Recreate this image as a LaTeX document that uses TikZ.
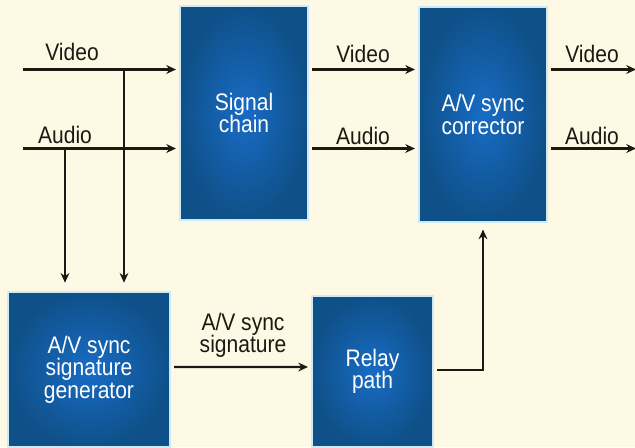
\documentclass[tikz,border=0pt]{standalone}
\usepackage{fontspec}
\setmainfont{Liberation Sans}[FakeStretch=0.88]
\usepackage{xcolor,tikz}
\usetikzlibrary{positioning,calc,arrows.meta}
\definecolor{avPaper}{HTML}{FDF9E4}
\definecolor{avLine}{HTML}{1E1812}
\definecolor{avBlueDark}{HTML}{0F5088}
\definecolor{avBlueLight}{HTML}{186CC6}
\definecolor{avGlow}{HTML}{CDEBF6}
\tikzset{
  block/.style={
    rectangle, draw=avGlow, line width=0.6pt,
    inner color=avBlueLight, outer color=avBlueDark,
    text=white, align=center,
    font=\fontsize{13.6}{12.8}\selectfont,
  },
  signal arrow/.style={
    -{Stealth[length=5.5pt, width=5pt]},
    line width=1.3pt, color=avLine,
    shorten >=2pt,
  },
  signal label/.style={
    anchor=base, font=\fontsize{13.6}{12.8}\selectfont, text=avLine,
  },
}

\begin{document}
\begin{tikzpicture}

% --- PAPER ---
\fill[avPaper] (0,0) rectangle (12.7,8.94);
\useasboundingbox (0,0) rectangle (12.7,8.94);

% --- BLOCKS ---
\node[block, minimum width=2.56cm, minimum height=4.28cm]
  (chain) at (4.88, 6.68) {Signal\\chain};
\node[block, minimum width=2.56cm, minimum height=4.3cm]
  (corrector) at (9.66, 6.65) {A/V sync\\corrector};
\node[block, minimum width=3.24cm, minimum height=3.1cm]
  (generator) at (1.78, 1.55) {A/V sync\\signature\\generator};
\node[block, minimum width=2.42cm, minimum height=3.02cm]
  (relay) at (7.45, 1.51) {Relay\\path};

% --- FREE ENDS ---
\def\videoY{7.55}          % y of the video rail
\def\audioY{5.97}          % y of the audio rail
\coordinate (videoIn)  at (0.46, \videoY);
\coordinate (audioIn)  at (0.46, \audioY);
\coordinate (videoOut) at (12.72, \videoY);
\coordinate (audioOut) at (12.72, \audioY);
\coordinate (videoTap) at (2.48, \videoY);
\coordinate (audioTap) at (1.30, \audioY);

% --- INPUTS ---
\draw[signal arrow] (videoIn) -- (videoIn -| chain.west);
\draw[signal arrow] (audioIn) -- (audioIn -| chain.west);
\node[signal label] (videoInLbl) at (1.44, 7.74) {Video};
\node[signal label] (audioInLbl) at (1.30, 6.08) {Audio};

% --- TAPS TO GENERATOR ---
\draw[signal arrow, shorten >=5pt] (videoTap) -- (videoTap |- generator.north);
\draw[signal arrow, shorten >=5pt] (audioTap) -- (audioTap |- generator.north);

% --- CHAIN TO CORRECTOR ---
\draw[signal arrow, shorten <=2pt]
  (chain.east |- videoIn) -- (corrector.west |- videoIn);
\draw[signal arrow, shorten <=2pt]
  (chain.east |- audioIn) -- (corrector.west |- audioIn);
\node[signal label] (videoMidLbl) at (7.26, 7.7) {Video};
\node[signal label] (audioMidLbl) at (7.26, 6.06) {Audio};

% --- OUTPUTS ---
\draw[signal arrow, shorten <=2pt, shorten >=0pt]
  (corrector.east |- videoOut) -- (videoOut);
\draw[signal arrow, shorten <=2pt, shorten >=0pt]
  (corrector.east |- audioOut) -- (audioOut);
\node[signal label] (videoOutLbl) at (11.84, 7.7) {Video};
\node[signal label] (audioOutLbl) at (11.84, 6.06) {Audio};

% --- SIGNATURE PATH ---
\draw[signal arrow, shorten <=2pt]
  ($(generator.east)+(0,0.05)$) -- ($(relay.west)+(0,0.09)$);
\node[signal label, anchor=south, align=center] (sigLbl)
  at (4.86, 1.66) {A/V sync\\signature};
\draw[signal arrow, shorten <=2pt, shorten >=4pt]
  ($(relay.east)+(0,0.03)$) -| (corrector.south);

\end{tikzpicture}
\end{document}
